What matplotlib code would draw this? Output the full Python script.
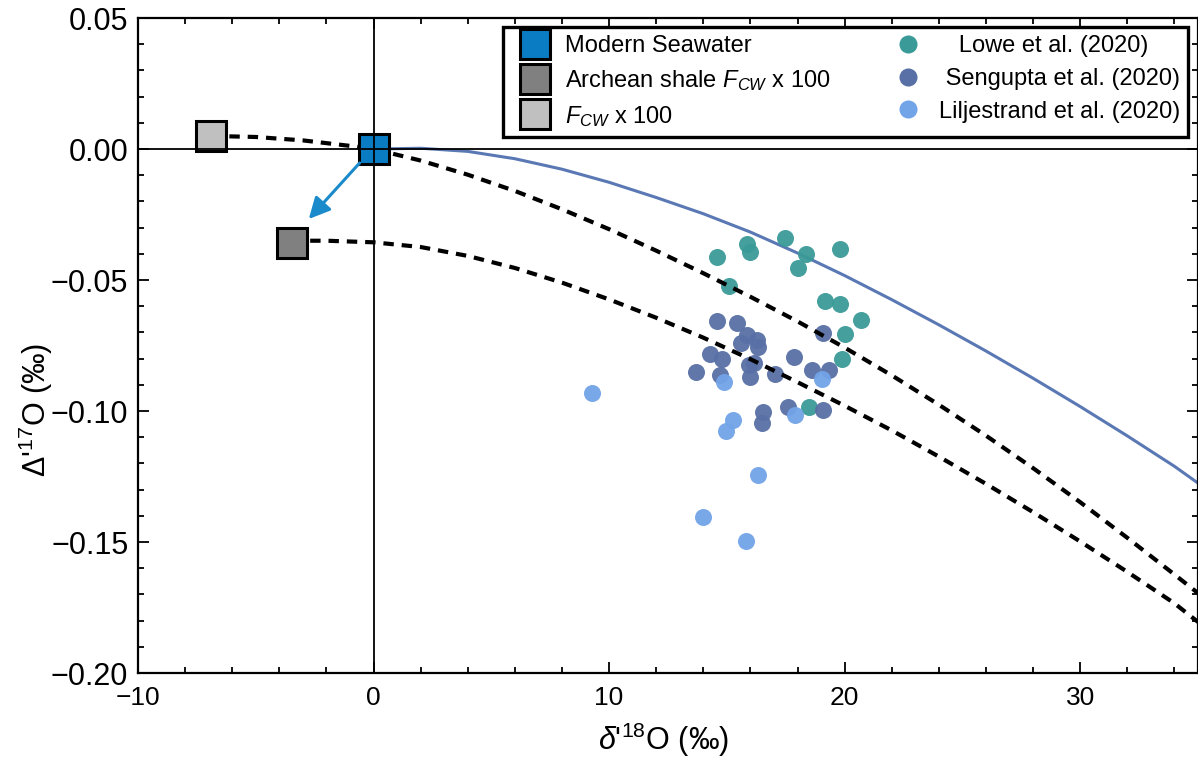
import matplotlib
matplotlib.use('Agg')
import matplotlib.pyplot as plt
from matplotlib.lines import Line2D
import matplotlib.ticker as mt
import numpy as np

plt.rcParams['font.family'] = ['Liberation Sans', 'DejaVu Sans']
plt.rcParams['mathtext.fontset'] = 'custom'
plt.rcParams['mathtext.rm'] = 'Liberation Sans'
plt.rcParams['mathtext.it'] = 'Liberation Sans:italic'

# End members (delta'18O, Delta'17O)
seawater = (0.0, 0.0)
archean_shale = (-3.47, -0.0359)
fcw = (-6.9, 0.0050)
arrow_start = (-0.59, -0.0053)
arrow_end = (-2.75, -0.0267)

# Model curves
blue_x = [0, 2, 4, 6, 8, 10, 12, 14, 16, 18, 20, 22, 24, 26, 28, 30, 32, 34, 35]
blue_y = [0.0, 0.0003, -0.0009, -0.0037, -0.0077, -0.0127, -0.0185, -0.0247, -0.0317,
          -0.0397, -0.0483, -0.0575, -0.0671, -0.0771, -0.0875, -0.0983, -0.1095,
          -0.1211, -0.1275]

upper_x = [-6.9, -5, -3, -1, 0, 2, 4, 6, 8, 10, 12, 14, 16, 18, 20, 22, 24, 26, 28,
           30, 32, 34, 35]
upper_y = [0.0050, 0.0046, 0.0033, 0.0012, 0.0, -0.0044, -0.0098, -0.0160, -0.0230,
           -0.0306, -0.0388, -0.0474, -0.0564, -0.0658, -0.0758, -0.0864, -0.0976,
           -0.1094, -0.1218, -0.1348, -0.1484, -0.1624, -0.1695]

lower_x = [-3.47, -2, 0, 2, 4, 6, 8, 10, 12, 14, 16, 18, 20, 22, 24, 26, 28, 30, 32,
           34, 35]
lower_y = [-0.0350, -0.0350, -0.0356, -0.0374, -0.0408, -0.0454, -0.0510, -0.0574,
           -0.0644, -0.0720, -0.0802, -0.0890, -0.0980, -0.1074, -0.1174, -0.1278,
           -0.1386, -0.1498, -0.1614, -0.1734, -0.1805]

# Data sets
lowe_x = [14.58, 15.85, 15.97, 17.46, 18.35, 18.01, 19.79, 15.08, 19.15, 19.79,
          20.68, 20.00, 19.87, 18.47]
lowe_y = [-0.0412, -0.0363, -0.0393, -0.0340, -0.0401, -0.0454, -0.0382, -0.0523,
          -0.0580, -0.0592, -0.0653, -0.0706, -0.0802, -0.0985]

sengupta_x = [14.58, 15.42, 15.85, 16.27, 15.59, 16.31, 19.07, 14.28, 14.79, 16.14,
              15.93, 17.84, 13.69, 14.70, 15.97, 17.03, 18.60, 19.32, 16.53, 16.48,
              17.58, 19.07]
sengupta_y = [-0.0656, -0.0664, -0.0710, -0.0729, -0.0740, -0.0756, -0.0702, -0.0782,
              -0.0802, -0.0817, -0.0824, -0.0794, -0.0851, -0.0863, -0.0870, -0.0859,
              -0.0844, -0.0844, -0.1004, -0.1046, -0.0985, -0.0996]

lilje_x = [9.28, 14.87, 19.03, 15.25, 14.96, 17.88, 16.31, 13.98, 15.80]
lilje_y = [-0.0931, -0.0889, -0.0878, -0.1034, -0.1076, -0.1015, -0.1244, -0.1405,
           -0.1496]

c_lowe = '#3a9a98'
c_seng = '#5870a5'
c_lilj = '#72a4e8'
c_curve = '#5a78b4'
c_sea = '#0a7cc4'
c_arch = '#808080'
c_fcw = '#c0c0c0'
c_arrow = '#1b8acb'

fig = plt.figure(figsize=(11.98, 7.61), dpi=100)
ax = fig.add_axes([0.1152, 0.1156, 0.8848, 0.8607])

ax.plot(blue_x, blue_y, '-', color=c_curve, lw=2.2, zorder=2)

ax.scatter(lowe_x, lowe_y, s=150, color=c_lowe, alpha=0.95, lw=0, zorder=3)
ax.scatter(sengupta_x, sengupta_y, s=150, color=c_seng, alpha=0.95, lw=0, zorder=3)
ax.scatter(lilje_x, lilje_y, s=150, color=c_lilj, alpha=0.95, lw=0, zorder=3)

ax.plot(upper_x, upper_y, color='black', lw=3, dashes=(2.5, 1.9), zorder=4)
ax.plot(lower_x, lower_y, color='black', lw=3, dashes=(2.5, 1.9), zorder=4)

sq = dict(marker='s', ms=21.6, mew=2.2, mec='black', ls='none', zorder=5)
ax.plot(*seawater, mfc=c_sea, **sq)
ax.plot(*archean_shale, mfc=c_arch, **sq)
ax.plot(*fcw, mfc=c_fcw, **sq)

ax.annotate('', xy=arrow_end, xytext=arrow_start,
            arrowprops=dict(arrowstyle='-|>', color=c_arrow, lw=2.2,
                            mutation_scale=32, shrinkA=0, shrinkB=0), zorder=5)

ax.axhline(0, color='black', lw=1.3, zorder=6)
ax.axvline(0, color='black', lw=1.3, zorder=6)

ax.set_xlim(-10, 35)
ax.set_ylim(-0.20, 0.05)
ax.set_xticks([-10, 0, 10, 20, 30])
ax.set_xticks(np.arange(-10, 35.1, 2), minor=True)
ax.set_yticks([-0.20, -0.15, -0.10, -0.05, 0.00, 0.05])
ax.set_yticks(np.arange(-0.20, 0.051, 0.01), minor=True)
ax.yaxis.set_major_formatter(mt.FuncFormatter(lambda v, p: ('%.2f' % v).replace('-', '\u2212')))
ax.tick_params(which='both', direction='in', top=True, right=True, width=1.3)
ax.tick_params(which='major', length=8)
ax.tick_params(which='minor', length=4)
ax.tick_params(axis='y', labelsize=22, pad=7)
ax.tick_params(axis='x', labelsize=19, pad=9)
for s in ax.spines.values():
    s.set_linewidth(1.6)

fig.text(36 / 1198, 1 - 410 / 761, "$\\Delta$'$^{17}$O (‰)", rotation=90,
         ha='center', va='center', fontsize=22)
fig.text(663 / 1198, 1 - 740 / 761, "$\\delta$'$^{18}$O (‰)",
         ha='center', va='center', fontsize=22)

handles = [
    Line2D([], [], marker='s', ms=21.6, mew=2.2, mec='black', mfc=c_sea, ls='none'),
    Line2D([], [], marker='s', ms=21.6, mew=2.2, mec='black', mfc=c_arch, ls='none'),
    Line2D([], [], marker='s', ms=21.6, mew=2.2, mec='black', mfc=c_fcw, ls='none'),
    Line2D([], [], marker='o', ms=13, mew=0, color=c_lowe, ls='none'),
    Line2D([], [], marker='o', ms=13, mew=0, color=c_seng, ls='none'),
    Line2D([], [], marker='o', ms=13, mew=0, color=c_lilj, ls='none'),
]
labels = ['Modern Seawater', 'Archean shale $F_{CW}$ x 100', '$F_{CW}$ x 100',
          '   Lowe et al. (2020)', ' Sengupta et al. (2020)', 'Liljestrand et al. (2020)']
leg = ax.legend(handles, labels, ncol=2, loc='upper left',
                bbox_to_anchor=(0.344, 0.986, 0.647, 0.0), mode='expand',
                borderaxespad=0, fontsize=17, labelspacing=0.45, handletextpad=0.3,
                fancybox=False, framealpha=1, edgecolor='black', borderpad=0.35,
                columnspacing=1.0)
leg.get_frame().set_linewidth(2.4)
leg.set_zorder(10)

fig.savefig('out.png', dpi=100)
